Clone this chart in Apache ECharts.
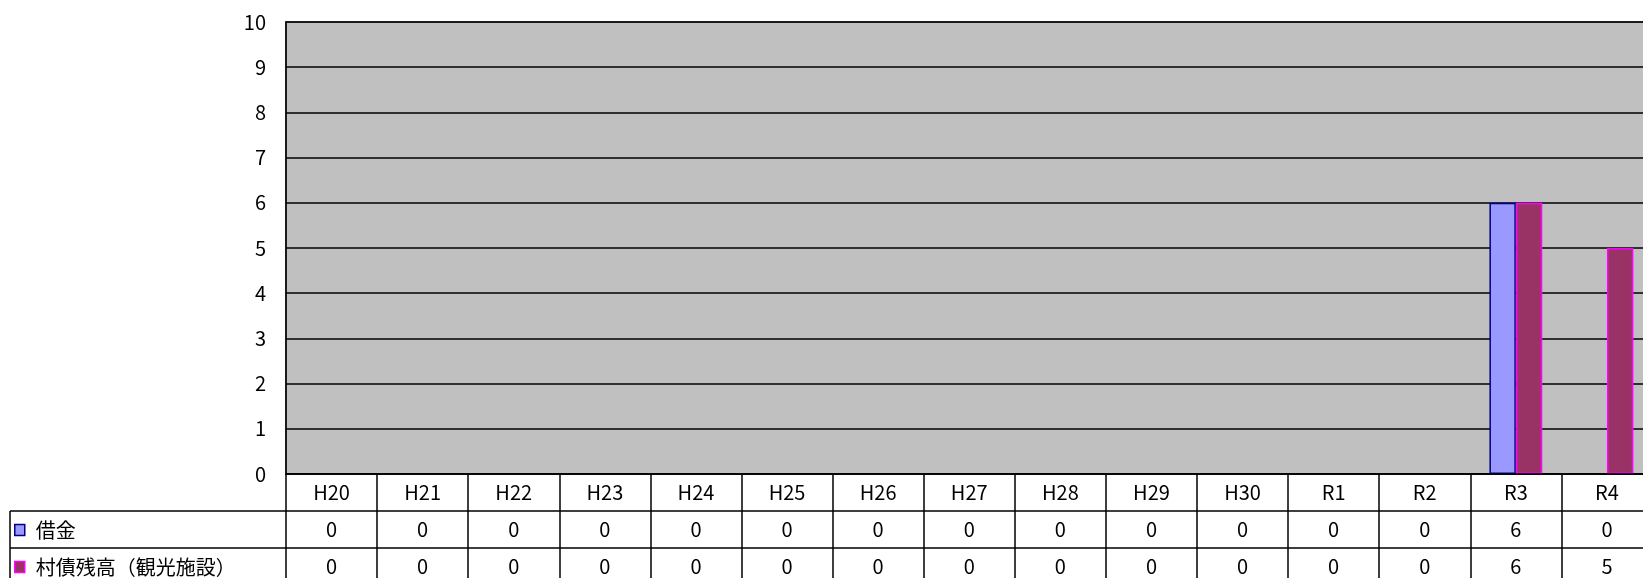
<!DOCTYPE html>
<html>
<head>
<meta charset="utf-8">
<script src="https://cdn.jsdelivr.net/npm/echarts@6/dist/echarts.min.js"></script>
<style>
html,body{margin:0;padding:0;background:#fff;}
#chart{width:1643px;height:578px;}
</style>
</head>
<body>
<div id="chart"></div>
<script>
const categories = ['H20','H21','H22','H23','H24','H25','H26','H27','H28','H29','H30','R1','R2','R3','R4'];
const seriesNames = ['借金','村債残高（観光施設）'];
const borrowing = [0,0,0,0,0,0,0,0,0,0,0,0,0,6,0];
const villageBonds = [0,0,0,0,0,0,0,0,0,0,0,0,0,6,5];
const yTicks = { min: 0, max: 10, interval: 1 };

const FONT = '"Noto Sans CJK JP", "Noto Sans", sans-serif';
const ROW = 37;
const GRID_LEFT = 286, GRID_TOP = 22, GRID_BOTTOM_Y = 474;
const COL_W = 91.1;

function tableAxis(data, offset) {
  return {
    type: 'category',
    gridIndex: 0,
    position: 'bottom',
    offset: offset,
    data: data,
    boundaryGap: true,
    z: 5,
    axisLine: { show: true, lineStyle: { color: '#000', width: 1.5 } },
    axisTick: { show: true, length: ROW, inside: false, lineStyle: { color: '#000', width: 1.5 } },
    axisLabel: { show: true, margin: ROW / 2, verticalAlign: 'middle', color: '#000', fontSize: 20, fontFamily: FONT, interval: 0 },
    splitLine: { show: false }
  };
}

const chart = echarts.init(document.getElementById('chart'), null, { renderer: 'canvas' });
chart.setOption({
  animation: false,
  backgroundColor: '#fff',
  grid: {
    left: GRID_LEFT, top: GRID_TOP, width: COL_W * categories.length, height: GRID_BOTTOM_Y - GRID_TOP,
    outerBoundsMode: 'none', containLabel: false,
    show: true, backgroundColor: '#C0C0C0', borderColor: '#6e6e6e', borderWidth: 2
  },
  legend: {
    orient: 'vertical',
    left: 14,
    top: 520,
    height: 120,
    padding: 0,
    itemWidth: 10,
    itemHeight: 11,
    itemGap: 17,
    icon: 'rect',
    selectedMode: false,
    itemStyle: { borderWidth: 1.5 },
    textStyle: { fontSize: 20, lineHeight: 20, fontFamily: FONT, color: '#000', padding: [0, 0, 0, 6] },
    data: seriesNames
  },
  xAxis: [
    tableAxis(categories, 0),
    tableAxis(borrowing.map(String), ROW),
    tableAxis(villageBonds.map(String), ROW * 2)
  ],
  yAxis: {
    type: 'value',
    min: yTicks.min, max: yTicks.max, interval: yTicks.interval,
    axisLine: { show: true, lineStyle: { color: '#000', width: 1.5 } },
    axisTick: { show: false },
    axisLabel: { margin: 20, color: '#000', fontSize: 20, fontFamily: FONT },
    splitLine: { show: true, lineStyle: { color: '#000', width: 1.5 } }
  },
  graphic: [
    { type: 'line', shape: { x1: 10, y1: 511, x2: 10, y2: 600 }, style: { stroke: '#000', lineWidth: 1.5 } },
    { type: 'line', shape: { x1: 10, y1: 511, x2: 286, y2: 511 }, style: { stroke: '#000', lineWidth: 1.5 } },
    { type: 'line', shape: { x1: 10, y1: 548, x2: 286, y2: 548 }, style: { stroke: '#000', lineWidth: 1.5 } }
  ],
  series: [
    {
      name: seriesNames[0], type: 'bar', xAxisIndex: 0,
      data: borrowing.map(v => v === 0 ? '-' : v),
      barWidth: '29%', barGap: '0%',
      itemStyle: { color: '#9999FF', borderColor: '#000080', borderWidth: 1.5 }
    },
    {
      name: seriesNames[1], type: 'bar', xAxisIndex: 0,
      data: villageBonds.map(v => v === 0 ? '-' : v),
      barWidth: '29%', barGap: '0%',
      itemStyle: { color: '#993366', borderColor: '#FF00FF', borderWidth: 1.5 }
    }
  ]
});
</script>
</body>
</html>
